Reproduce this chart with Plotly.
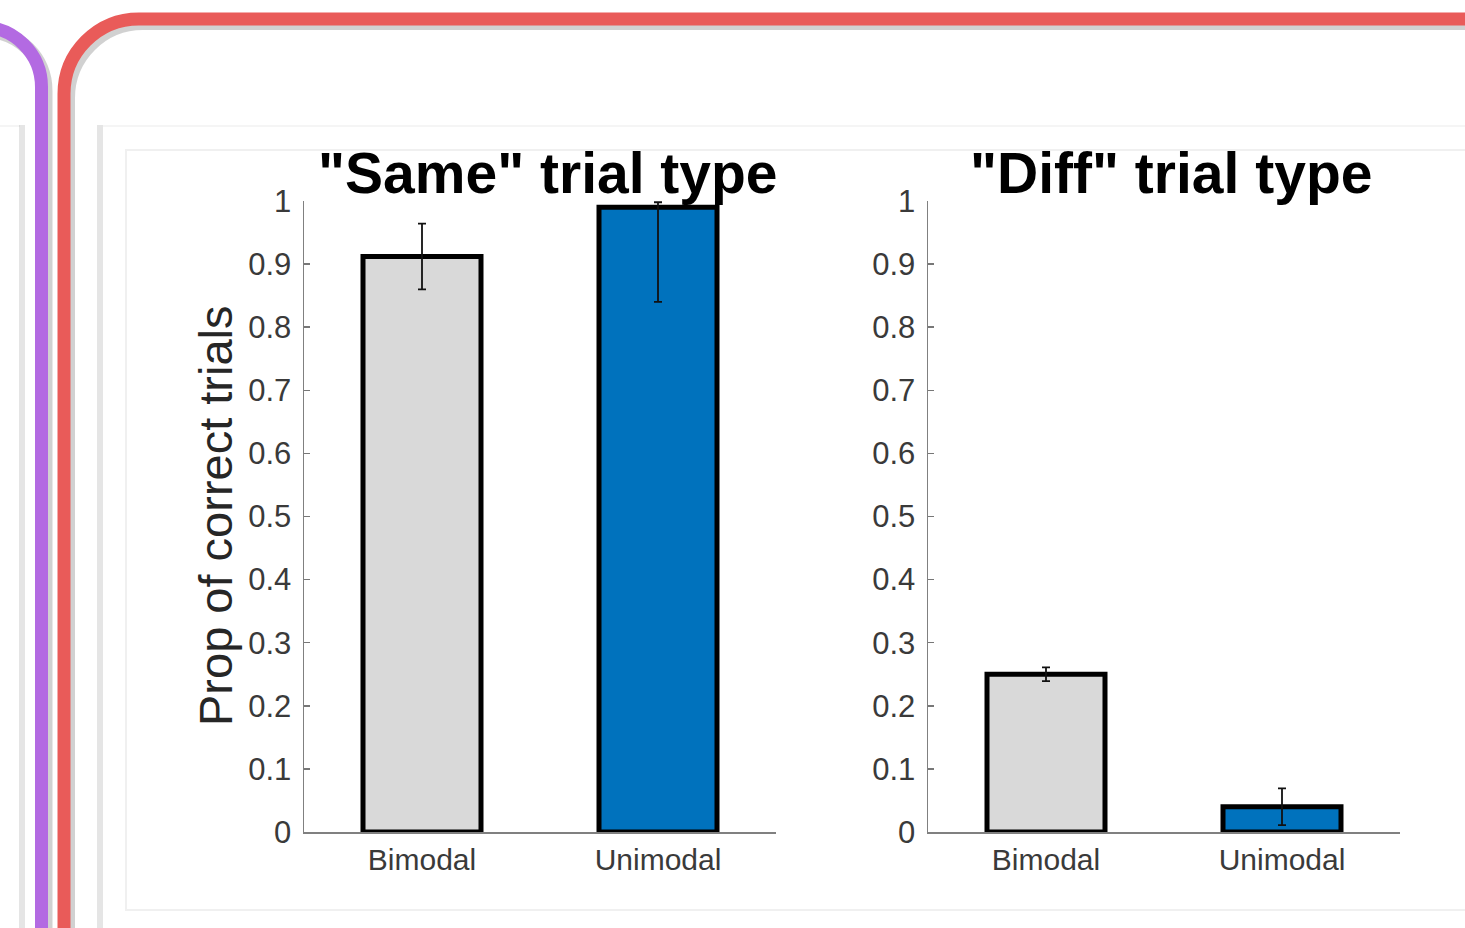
import plotly.graph_objects as go

# ---------------- data ----------------
categories = ["Bimodal", "Unimodal"]
same_values = [0.912, 0.99]
same_err_plus = [0.052, 0.008]
same_err_minus = [0.052, 0.15]
diff_values = [0.25, 0.04]
diff_err_plus = [0.011, 0.029]
diff_err_minus = [0.011, 0.029]
bar_colors = ["#d9d9d9", "#0072bd"]
y_tick_vals = [0, 0.1, 0.2, 0.3, 0.4, 0.5, 0.6, 0.7, 0.8, 0.9, 1]
y_tick_labels = ["0", "0.1", "0.2", "0.3", "0.4", "0.5", "0.6", "0.7", "0.8", "0.9", "1"]
titles = ['<b>"Same" trial type</b>', '<b>"Diff" trial type</b>']
y_title = "Prop of correct trials"

W, H = 1465, 928
FONT = "Liberation Sans, Arial, Helvetica, sans-serif"


def px(x):
    return x / W


def py(y):
    return 1 - y / H


def path(cmds):
    out = []
    for c in cmds:
        if isinstance(c, str):
            out.append(c)
        else:
            out.append(f"{px(c[0]):.5f},{py(c[1]):.5f}")
    return " ".join(out)


fig = go.Figure()

for values, ep, em, xa, ya in [
    (same_values, same_err_plus, same_err_minus, "x", "y"),
    (diff_values, diff_err_plus, diff_err_minus, "x2", "y2"),
]:
    fig.add_trace(go.Bar(
        x=categories, y=values, xaxis=xa, yaxis=ya, width=0.5,
        marker=dict(color=bar_colors, line=dict(color="#000000", width=5)),
        error_y=dict(type="data", symmetric=False, array=ep, arrayminus=em,
                     color="#111111", thickness=1.8, width=4),
        showlegend=False, hoverinfo="skip",
    ))

axis_common_y = dict(
    range=[0, 1], tickvals=y_tick_vals, ticktext=y_tick_labels,
    ticks="inside", ticklen=6, tickcolor="#777777", tickwidth=1.5,
    showline=True, linecolor="#808080", linewidth=1.5,
    showgrid=False, zeroline=False, automargin=False, ticklabelstandoff=5,
    tickfont=dict(family=FONT, size=31, color="#3a3a3a"),
    domain=[py(832), py(201)], fixedrange=True,
)
axis_common_x = dict(
    type="category", range=[-0.5, 1.5], ticks="",
    showline=True, linecolor="#808080", linewidth=1.5,
    showgrid=False, zeroline=False, automargin=False,
    tickfont=dict(family=FONT, size=30, color="#3a3a3a"),
    fixedrange=True,
)

fig.update_layout(
    template="none",
    width=W, height=H,
    margin=dict(l=0, r=0, t=0, b=0, pad=0, autoexpand=False),
    paper_bgcolor="white", plot_bgcolor="white",
    xaxis=dict(axis_common_x, domain=[px(304), px(776)], anchor="y"),
    yaxis=dict(axis_common_y, anchor="x"),
    xaxis2=dict(axis_common_x, domain=[px(928), px(1400)], anchor="y2"),
    yaxis2=dict(axis_common_y, anchor="x2"),
    bargap=0.5,
)

# titles and y label
fig.add_annotation(x=px(548), y=py(173), xref="paper", yref="paper", text=titles[0],
                   showarrow=False, xanchor="center", yanchor="middle",
                   font=dict(family=FONT, size=57, color="#000000"))
fig.add_annotation(x=px(1171), y=py(173), xref="paper", yref="paper", text=titles[1],
                   showarrow=False, xanchor="center", yanchor="middle",
                   font=dict(family=FONT, size=57, color="#000000"))
fig.add_annotation(x=px(215), y=py(516), xref="paper", yref="paper", text=y_title,
                   showarrow=False, xanchor="center", yanchor="middle", textangle=-90,
                   font=dict(family=FONT, size=47, color="#262626"))

# ---------------- decorative frame ----------------
k = 0.5523
shapes = []
for x0 in [22, 100]:
    shapes.append(dict(type="line", xref="paper", yref="paper", x0=px(x0), x1=px(x0),
                       y0=py(125), y1=py(940), line=dict(color="rgba(0,0,0,0.10)", width=6),
                       layer="below"))
shapes.append(dict(type="line", xref="paper", yref="paper", x0=px(103), x1=px(1470),
                   y0=py(126), y1=py(126), line=dict(color="rgba(0,0,0,0.04)", width=2), layer="below"))
shapes.append(dict(type="line", xref="paper", yref="paper", x0=px(0), x1=px(20),
                   y0=py(126), y1=py(126), line=dict(color="rgba(0,0,0,0.04)", width=2), layer="below"))
shapes.append(dict(type="path", xref="paper", yref="paper",
                   path=path(["M", (1480, 150), "L", (126, 150), "L", (126, 910), "L", (1480, 910)]),
                   line=dict(color="rgba(0,0,0,0.06)", width=2), layer="below"))

R1, cx1, ty1 = 60, 41.5, 27
purple = ["M", (-40, ty1), "L", (cx1 - R1, ty1), "C", (cx1 - R1 + k * R1, ty1),
          (cx1, ty1 + R1 - k * R1), (cx1, ty1 + R1), "L", (cx1, 960)]
purple_sh = ["M", (-40, ty1 + 4), "L", (cx1 - R1 + 4, ty1 + 4), "C", (cx1 - R1 + 4 + k * R1, ty1 + 4),
             (cx1 + 4, ty1 + 4 + R1 - k * R1), (cx1 + 4, ty1 + 4 + R1), "L", (cx1 + 4, 960)]
R2, lx2, ty2 = 75, 64, 19
red = ["M", (lx2, 960), "L", (lx2, ty2 + R2), "C", (lx2, ty2 + R2 - k * R2),
       (lx2 + R2 - k * R2, ty2), (lx2 + R2, ty2), "L", (1490, ty2)]
red_sh = ["M", (lx2 + 4, 960), "L", (lx2 + 4, ty2 + 4 + R2), "C", (lx2 + 4, ty2 + 4 + R2 - k * R2),
          (lx2 + 4 + R2 - k * R2, ty2 + 4), (lx2 + 4 + R2, ty2 + 4), "L", (1490, ty2 + 4)]

for p in [purple_sh, red_sh]:
    shapes.append(dict(type="path", xref="paper", yref="paper", path=path(p),
                       line=dict(color="rgba(0,0,0,0.18)", width=14)))
shapes.append(dict(type="path", xref="paper", yref="paper", path=path(purple),
                   line=dict(color="#b36ae2", width=13)))
shapes.append(dict(type="path", xref="paper", yref="paper", path=path(red),
                   line=dict(color="#e95b59", width=13)))

fig.update_layout(shapes=shapes)

fig.write_html(
    "out.html",
    config={"displayModeBar": False, "staticPlot": True},
    post_script="document.body.style.margin='0';document.body.style.overflow='hidden';",
)
